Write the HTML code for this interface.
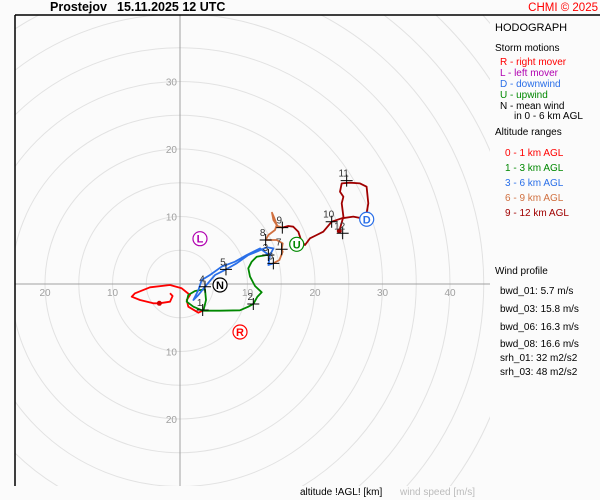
<!DOCTYPE html>
<html><head><meta charset="utf-8"><style>
html,body{margin:0;padding:0;background:#fbfbfb;width:600px;height:500px;overflow:hidden;}
svg{display:block;font-family:"Liberation Sans",sans-serif;}
</style></head><body>
<svg id="hodo" width="600" height="500" viewBox="0 0 600 500">
<defs><clipPath id="plotclip"><rect x="15" y="15" width="475" height="471"/></clipPath></defs>
<rect x="0" y="0" width="600" height="500" fill="#fbfbfb"/>
<g id="grid" clip-path="url(#plotclip)"></g>
<g id="series"></g>
<line x1="15" y1="15" x2="600" y2="15" stroke="#000" stroke-width="1.5"/>
<line x1="15" y1="15" x2="15" y2="486" stroke="#000" stroke-width="1.5"/>
<text x="50" y="11" font-size="12.5" font-weight="bold">Prostejov</text>
<text x="117" y="11" font-size="12.5" font-weight="bold">15.11.2025 12 UTC</text>
<text x="598" y="11" font-size="11.5" fill="#ff0000" text-anchor="end">CHMI © 2025</text>
<g font-size="11">
<text x="495" y="31">HODOGRAPH</text>
<text x="495" y="51" font-size="10">Storm motions</text>
<text x="500" y="65" font-size="10" fill="#ff0000">R - right mover</text>
<text x="500" y="76" font-size="10" fill="#b000b0">L - left mover</text>
<text x="500" y="87" font-size="10" fill="#2a6fe8">D - downwind</text>
<text x="500" y="98" font-size="10" fill="#008800">U - upwind</text>
<text x="500" y="109" font-size="10">N - mean wind</text>
<text x="514" y="119" font-size="10">in 0 - 6 km AGL</text>
<text x="495" y="135" font-size="10">Altitude ranges</text>
<text x="505" y="156" font-size="10" fill="#ff0000">0 - 1 km AGL</text>
<text x="505" y="171" font-size="10" fill="#008800">1 - 3 km AGL</text>
<text x="505" y="186" font-size="10" fill="#2a6fe8">3 - 6 km AGL</text>
<text x="505" y="201" font-size="10" fill="#d07040">6 - 9 km AGL</text>
<text x="505" y="216" font-size="10" fill="#a00000">9 - 12 km AGL</text>
<text x="495" y="274" font-size="10">Wind profile</text>
<text x="500" y="294" font-size="10">bwd_01: 5.7 m/s</text>
<text x="500" y="312" font-size="10">bwd_03: 15.8 m/s</text>
<text x="500" y="330" font-size="10">bwd_06: 16.3 m/s</text>
<text x="500" y="347" font-size="10">bwd_08: 16.6 m/s</text>
<text x="500" y="361" font-size="10">srh_01: 32 m2/s2</text>
<text x="500" y="375" font-size="10">srh_03: 48 m2/s2</text>
</g>
<text x="300" y="495" font-size="10">altitude !AGL! [km]</text>
<text x="400" y="495" font-size="10" fill="#bbb">wind speed [m/s]</text>
</svg>
<script>
// data in m/s (u east, v north)
const ticks = [10, 20, 30, 40];
const ringSteps = [5,10,15,20,25,30,35,40,45,50,55,60,65];
const red = [[-1.48,-1.38],[-1.09,-1.78],[-1.48,-2.62],[-3.06,-2.86],[-3.95,-2.86],[-5.93,-2.37],[-7.16,-1.88],[-6.67,-1.38],[-4.44,-0.49],[-1.48,-0.15],[0.25,-0.64],[1.48,-1.63],[0.99,-2.37],[1.23,-3.36],[2.72,-4.25],[3.36,-3.95]];
const green = [[3.36,-3.95],[1.98,-3.36],[0.99,-2.62],[1.23,-1.63],[2.22,-1.04],[3.70,-0.79],[3.85,-2.37],[3.46,-3.95],[5.93,-3.95],[8.89,-3.90],[10.12,-3.36],[10.86,-2.96],[11.46,-1.88],[12.10,-1.23],[11.11,-0.30],[10.37,1.09],[10.12,2.32],[10.62,3.31],[11.36,4.05],[12.84,4.30],[13.23,4.25]];
const blue = [[13.23,4.25],[11.85,5.28],[9.88,4.30],[8.15,3.31],[6.17,2.57],[4.44,1.33],[3.21,0.59],[2.72,-0.89],[1.98,-2.37],[2.72,-1.63],[3.70,-0.40],[5.19,1.33],[6.81,2.17],[8.40,3.06],[10.12,4.30],[11.36,4.79],[12.84,5.43],[13.83,5.28],[13.33,4.30],[13.09,2.81],[13.83,3.06]];
const orange = [[13.83,3.06],[14.72,3.56],[15.21,4.79],[15.06,5.14],[15.21,6.02],[14.32,6.52],[13.33,6.52],[12.69,6.52],[13.09,7.26],[14.07,8.00],[14.32,8.74],[13.83,9.48],[13.63,10.57],[13.93,9.88],[14.42,8.59],[15.16,8.35]];
const darkred = [[15.16,8.35],[16.05,8.59],[16.79,8.49],[17.53,7.75],[18.02,6.27],[18.52,5.78],[19.26,6.77],[20.25,7.26],[21.23,7.75],[22.47,9.23],[23.95,9.73],[25.68,9.98],[26.91,9.73],[27.65,10.47],[27.90,11.95],[27.65,14.42],[26.67,14.91],[25.19,15.01],[23.95,14.91],[23.70,13.68],[24.20,12.94],[23.95,11.95],[24.20,9.98],[23.60,7.85]];
const heightKm = [1,2,3,4,5,6,7,8,9,10,11,12];
const heightU = [3.36,10.86,13.09,3.70,6.81,13.83,15.06,12.69,15.16,22.47,24.69,24.10];
const heightV = [-3.85,-2.96,4.30,-0.40,2.17,3.06,5.14,6.52,8.35,9.23,15.31,7.51];
const motionLabels = ["L","U","D","N","R"];
const motionU = [2.96,17.29,27.66,5.93,8.89];
const motionV = [6.71,5.88,9.59,-0.15,-7.11];
const motionColors = ["#b000b0","#008800","#2a6fe8","#000","#ff0000"];

const CX=180, CY=284, S=6.75;
const sx = u => CX + u*S;
const sy = v => CY - v*S;
const NS="http://www.w3.org/2000/svg";
function mk(tag, attrs, parent){const e=document.createElementNS(NS,tag);for(const k in attrs)e.setAttribute(k,attrs[k]);parent.appendChild(e);return e;}
const grid=document.getElementById('grid'), ser=document.getElementById('series');
ringSteps.forEach(r=>{
  const c=mk('circle',{cx:CX,cy:CY,r:r*S,fill:'none',stroke:'#e2e2e2','stroke-width':1},grid);
  
  
});
let ax=mk('line',{x1:15,y1:CY,x2:490,y2:CY,stroke:'#a0a0a0'},grid);


ax=mk('line',{x1:CX,y1:15,x2:CX,y2:486,stroke:'#a0a0a0'},grid);


ticks.forEach(t=>{
  const pos=[[sx(-t),CY+12,'middle'],[sx(t),CY+12,'middle'],[CX-3,sy(t)+4,'end'],[CX-3,sy(-t)+4,'end']];
  pos.forEach(p=>{
    if(p[0]<20||p[0]>488||p[1]<20||p[1]>486) return;
    const e=mk('text',{x:p[0],y:p[1],'font-size':10,fill:'#a0a0a0','text-anchor':p[2]},ser);
    e.textContent=t;
    
    
  });
});
function path(data,color,name){
  const d=data.map((p,i)=>(i?'L':'M')+sx(p[0]).toFixed(1)+','+sy(p[1]).toFixed(1)).join('');
  const e=mk('path',{d:d,fill:'none',stroke:color,'stroke-width':1.8,'stroke-linejoin':'round'},ser);
  
  
}
path(red,'#ff0000','trace-0-1km');
path(green,'#008800','trace-1-3km');
path(blue,'#2a6fe8','trace-3-6km');
path(orange,'#d07040','trace-6-9km');
path(darkred,'#a00000','trace-9-12km');
let dot=mk('circle',{cx:sx(red[3][0]),cy:sy(red[3][1]),r:2.5,fill:'#d00000'},ser);


dot=mk('circle',{cx:sx(darkred[darkred.length-1][0]),cy:sy(darkred[darkred.length-1][1]),r:2.5,fill:'#a00000'},ser);


heightKm.forEach((h,i)=>{
  const x=sx(heightU[i]), y=sy(heightV[i]);
  const m=mk('path',{d:`M${x-6},${y}H${x+6}M${x},${y-6}V${y+6}`,stroke:'#000','stroke-width':1},ser);
  
  
  const t=mk('text',{x:x-3,y:y-4,'font-size':10,fill:'#333','text-anchor':'middle'},ser);
  t.textContent=h;
  
  
});
motionLabels.forEach((l,i)=>{
  const x=sx(motionU[i]), y=sy(motionV[i]);
  const c=mk('circle',{cx:x,cy:y,r:7,fill:'#fff',stroke:motionColors[i],'stroke-width':1.2},ser);
  
  
  const t=mk('text',{x:x,y:y+4,'font-size':11,'font-weight':'bold',fill:motionColors[i],'text-anchor':'middle'},ser);
  t.textContent=l;
  
  
});
</script>
</body></html>
